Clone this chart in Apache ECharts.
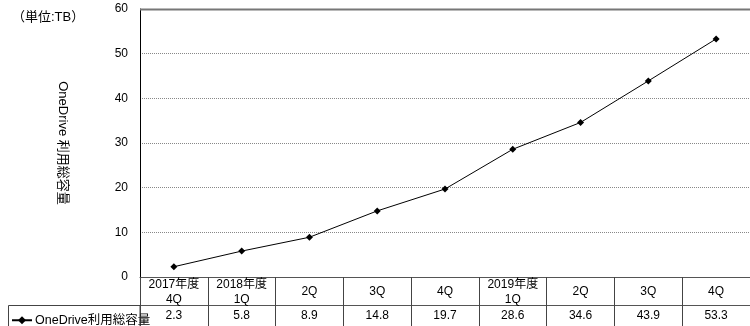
<!DOCTYPE html>
<html><head><meta charset="utf-8">
<script src="https://cdn.jsdelivr.net/npm/echarts@6/dist/echarts.min.js"></script>
<style>html,body{margin:0;padding:0;background:#fff}#c{width:750px;height:326px}</style>
</head><body><div id="c"></div>
<script>
const categories = ['2017年度\n4Q','2018年度\n1Q','2Q','3Q','4Q','2019年度\n1Q','2Q','3Q','4Q'];
const values = [2.3, 5.8, 8.9, 14.8, 19.7, 28.6, 34.6, 43.9, 53.3];
const seriesName = 'OneDrive利用総容量';
const yTicks = {min: 0, max: 60, interval: 10};
const FONT = '"Liberation Sans","Noto Sans CJK JP",sans-serif';

const chart = echarts.init(document.getElementById('c'), null, {renderer: 'canvas'});
chart.setOption({
  animation: false,
  textStyle: {fontFamily: FONT},
  title: {text: '（単位:TB）', left: 7, top: 6, textStyle: {fontSize: 13, fontWeight: 'normal', color: '#000', fontFamily: FONT}},
  grid: {left: 140, right: 0, top: 9, bottom: 49, containLabel: false},
  legend: {
    left: 6, top: 309, itemWidth: 20, itemHeight: 10, itemGap: 0,
    textStyle: {fontSize: 12.5, color: '#000', fontFamily: FONT, padding: [0,0,0,-2]},
    data: [seriesName]
  },
  xAxis: [{
    type: 'category', data: categories, boundaryGap: true, position: 'bottom',
    axisLine: {show: true, lineStyle: {color: '#555', width: 1}},
    axisTick: {show: true, length: 49, interval: 0, lineStyle: {color: '#444'}},
    axisLabel: {interval: 0, margin: 15, verticalAlign: 'middle', lineHeight: 15, fontSize: 12, color: '#000', fontFamily: FONT},
    splitLine: {show: false}
  }, {
    type: 'category', data: values.map(v => v.toFixed(1)), boundaryGap: true, position: 'bottom', offset: 28,
    axisLine: {show: true, lineStyle: {color: '#555', width: 1}},
    axisTick: {show: false},
    axisLabel: {interval: 0, margin: 11, verticalAlign: 'middle', fontSize: 12, color: '#000', fontFamily: FONT}
  }],
  yAxis: {
    type: 'value', min: yTicks.min, max: yTicks.max, interval: yTicks.interval,
    name: 'OneDrive 利用総容量', nameLocation: 'middle', nameRotate: -90, nameGap: 71,
    nameTextStyle: {fontSize: 13, color: '#000', fontFamily: FONT},
    axisLine: {show: true, lineStyle: {color: '#000', width: 1}},
    axisTick: {show: false},
    axisLabel: {margin: 12, fontSize: 12, color: '#000', fontFamily: FONT},
    splitLine: {show: true, lineStyle: {color: '#888', type: [1, 1], width: 1}}
  },
  graphic: [
    {type: 'line', shape: {x1: 140, y1: 9.5, x2: 750, y2: 9.5}, style: {stroke: '#777', lineWidth: 2}, z: 10},
    {type: 'rect', shape: {x: 8.5, y: 305.5, width: 131.5, height: 22}, style: {fill: 'none', stroke: '#444', lineWidth: 1}, z: 10}
  ],
  series: [{
    name: seriesName, type: 'line', data: values, xAxisIndex: 0,
    symbol: 'diamond', symbolSize: 7, showSymbol: true,
    lineStyle: {color: '#000', width: 1}, itemStyle: {color: '#000'}
  }]
});
</script></body></html>
